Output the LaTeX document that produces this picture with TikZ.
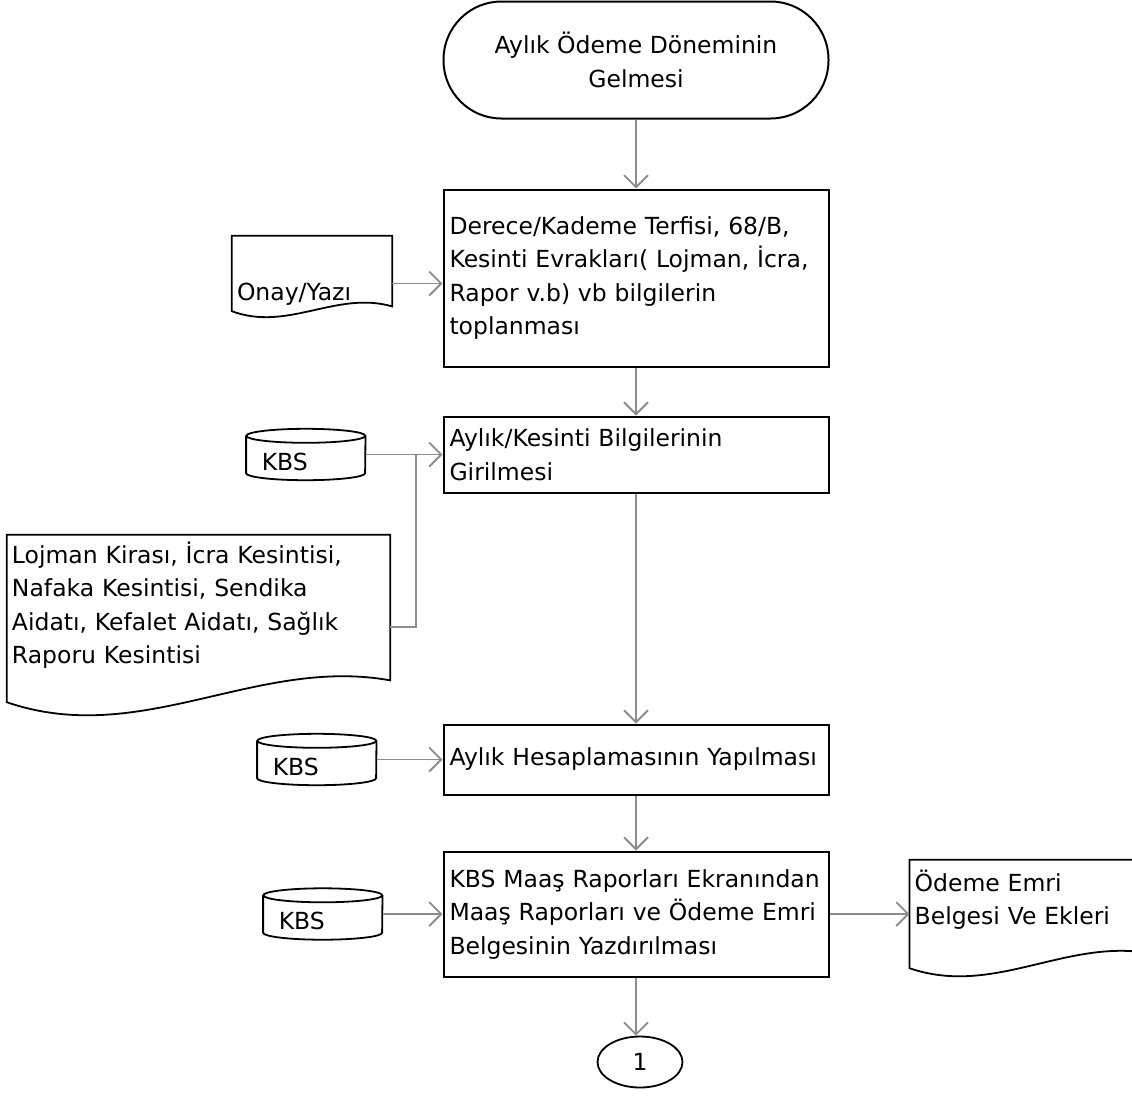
\documentclass[tikz,border=0pt]{standalone}
\usepackage{fontspec}
\setmainfont{DejaVu Sans}
\usetikzlibrary{arrows.meta, positioning, calc, shapes.geometric}

\newcommand{\yazi}{\fontsize{23.5}{33.5}\selectfont}

\tikzset{
  terminal/.style={draw, line width=2pt, rounded corners=58pt, minimum width=385pt, minimum height=117pt, align=center, font=\yazi},
  kutu/.style={draw, line width=2pt, text width=373pt, inner xsep=6pt, align=left, font=\yazi},
  belge/.style={inner xsep=5pt, align=left, font=\yazi},
  kbs/.style={minimum width=119pt, minimum height=51pt, text width=88pt, inner xsep=15.5pt, inner ysep=2pt, text height=36pt, text depth=5pt, align=left, font=\yazi},
  ok/.style={draw=gray!90, line width=1.8pt, -{Straight Barb[length=12pt, width=24pt, line width=1.8pt]}},
}

\begin{document}
\begin{tikzpicture}[x=1pt, y=-1pt, node distance=50pt]
\useasboundingbox (0,0) rectangle (1132,1096);

% ana akis
\node (basla) [terminal] at (636,60) {Aylık Ödeme Döneminin\\Gelmesi};
\node (terfi) [kutu, minimum height=177pt, below=69pt of basla] {Derece/Kademe Terfisi, 68/B,\\Kesinti Evrakları( Lojman, İcra,\\Rapor v.b) vb bilgilerin\\toplanması};
\node (giris) [kutu, minimum height=76pt, below=48pt of terfi] {Aylık/Kesinti Bilgilerinin\\Girilmesi};
\node (hesap) [kutu, minimum height=70pt, below=230pt of giris] {Aylık Hesaplamasının Yapılması};
\node (rapor) [kutu, minimum height=125pt, below=55pt of hesap] {KBS Maaş Raporları Ekranından\\Maaş Raporları ve Ödeme Emri\\Belgesinin Yazdırılması};
\node (bir) [ellipse, draw, line width=1.8pt, minimum width=85pt, minimum height=51pt, font=\yazi] at (640,1062) {1};

% belgeler
\node (onay) [belge, text width=150pt, minimum height=75pt, text height=58pt] at (312,273.5) {Onay/Yazı};
\node (lojman) [belge, text width=373pt, minimum height=167pt, text depth=132pt] at (198.5,618.5) {Lojman Kirası, İcra Kesintisi,\\Nafaka Kesintisi, Sendika\\Aidatı, Kefalet Aidatı, Sağlık\\Raporu Kesintisi};
\node (odeme) [belge, text width=227pt, minimum height=108pt, text depth=67pt, right=80pt of rapor] {Ödeme Emri\\Belgesi Ve Ekleri};

\foreach \b/\r/\c in {onay/0.03/0.13, lojman/0.057/0.12, odeme/0.065/0.12}
  \draw[line width=1.8pt] let \p1=(\b.south west), \p2=(\b.south east), \n1={\x2-\x1} in
    (\b.north west) -- (\b.north east) -- ($(\b.south east)+(0,\r*\n1)$)
    .. controls ($(\b.south west)+(0.65*\n1,\c*\n1)$) and ($(\b.south west)+(0.35*\n1,-\c*\n1)$) .. (\b.south west) -- cycle;

% veri tabanlari
\node (kbsA) [kbs, left=77pt of giris] {KBS};
\node (kbsB) [kbs, left=66pt of hesap] {KBS};
\node (kbsC) [kbs, left=60pt of rapor] {KBS};
\coordinate (birles) at (416,455);

\foreach \b in {kbsA, kbsB, kbsC}
  \draw[line width=1.8pt] ($(\b.north west)+(0,7)$) -- ($(\b.south west)+(0,-7)$)
    arc[start angle=180, end angle=360, x radius=59.5pt, y radius=7pt] -- ($(\b.north east)+(0,7)$)
    ($(\b.north)+(0,7)$) ellipse[x radius=59.5pt, y radius=7pt];

% oklar
\path[ok] (basla) edge (terfi);
\path[ok] (terfi) edge (giris);
\path[ok] (giris) edge (hesap);
\path[ok] (hesap) edge (rapor);
\draw[ok] (rapor.south) -- (rapor.south |- bir.north);
\draw[ok] ([yshift=-10pt]onay.east) -- ([yshift=-10pt]onay.east -| terfi.west);
\path[ok] (kbsA) edge (giris);
\draw[draw=gray!90, line width=1.8pt] ([yshift=-8.5pt]lojman.east) -| (birles);
\draw[ok] (kbsB.east) -- (kbsB.east -| hesap.west);
\draw[ok] (kbsC.east) -- (kbsC.east -| rapor.west);
\draw[ok] (rapor.east) -- (rapor.east -| odeme.west);
\end{tikzpicture}
\end{document}
